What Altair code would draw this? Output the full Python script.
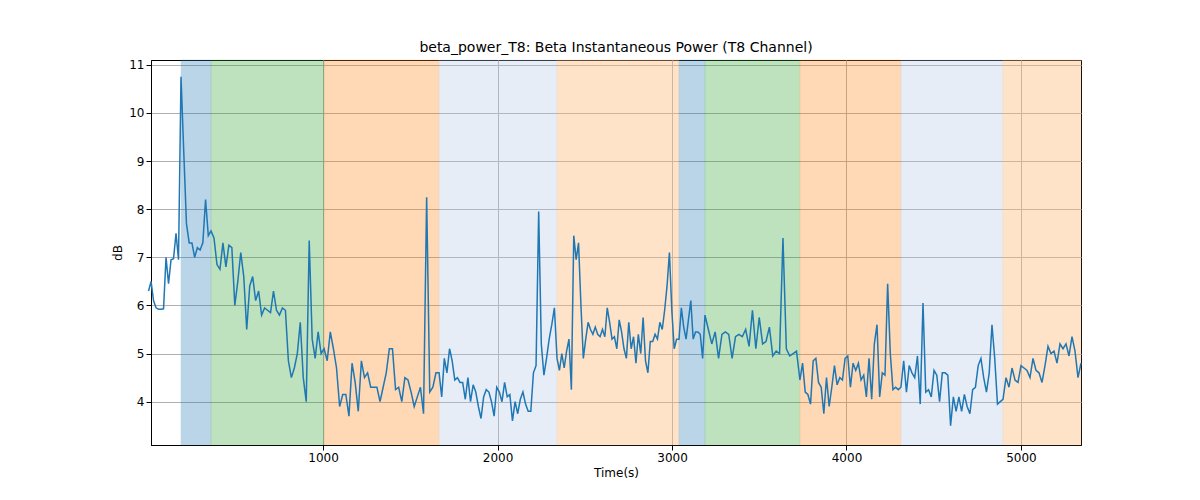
import altair as alt
import numpy as np
import pandas as pd

# shaded state bands: start, end, colour, opacity
band_start = [186, 358, 1006, 1665, 2341, 3040, 3189, 3733, 4312, 4897]
band_end = [358, 1006, 1665, 2341, 3040, 3189, 3733, 4312, 4897, 5344]
band_color = ['#1f77b4', '#2ca02c', '#ff7f0e', '#aec7e8', '#ffbb78',
              '#1f77b4', '#2ca02c', '#ff7f0e', '#aec7e8', '#ffbb78']
band_alpha = [0.3, 0.3, 0.3, 0.3, 0.4, 0.3, 0.3, 0.3, 0.3, 0.4]

# beta power readings per segment (dB)
seg_bounds = [0] + band_start
seg_values = [
    [6.3, 6.5, 6.1, 5.95, 5.92, 5.92, 5.93, 7.0, 6.45, 6.95, 6.97, 7.5, 6.95],
    [10.75, 9.2, 7.7, 7.3, 7.3, 7.0, 7.2, 7.15, 7.3, 8.2, 7.45],
    [7.55, 7.4, 6.85, 6.75, 7.3, 6.8, 7.25, 7.2, 6.0, 6.5, 7.1, 6.6, 5.5, 6.4, 6.6, 6.1,
     6.3, 5.8, 5.95, 5.9, 5.85, 6.3, 5.9, 5.8, 5.95, 5.9, 4.85, 4.5, 4.7, 5.0, 5.65, 4.5,
     4.0, 7.35, 5.3, 4.9, 5.45, 5.0],
    [5.1, 4.85, 5.45, 5.1, 4.7, 3.9, 4.15, 4.15, 3.7, 4.8, 4.4, 3.8, 4.85, 4.5, 4.6, 4.3,
     4.3, 4.3, 4.0, 4.3, 4.6, 5.1, 5.1, 4.25, 4.3, 4.0, 4.5, 4.45, 4.2, 3.9, 4.1, 4.3,
     3.75, 8.25, 4.2, 4.3, 4.6],
    [4.6, 4.1, 4.9, 4.6, 5.1, 4.85, 4.45, 4.5, 4.4, 4.4, 4.05, 4.5, 4.0, 4.35, 4.2, 3.9,
     3.65, 4.1, 4.25, 4.2, 4.0, 3.7, 4.3, 4.2, 4.0, 4.4, 4.1, 4.15, 3.6, 4.0, 3.75, 4.05,
     4.2, 3.95, 3.8, 3.8, 4.6, 4.75, 7.95, 5.2, 4.55, 4.9, 5.3, 5.6, 5.95],
    [4.9, 4.65, 5.0, 4.7, 5.05, 5.3, 4.25, 7.45, 6.95, 7.3, 6.0, 4.9, 5.3, 5.65, 5.5, 5.4,
     5.55, 5.4, 5.35, 5.5, 5.35, 5.95, 5.65, 5.3, 5.35, 5.1, 5.7, 5.45, 5.1, 4.9, 5.65,
     5.1, 5.35, 4.8, 5.4, 5.0, 5.75, 4.85, 4.6, 5.25, 5.25, 5.4, 5.3, 5.65, 5.5, 5.9, 6.4,
     7.1, 5.9, 5.1, 5.3],
    [5.3, 5.95, 5.55, 5.3, 5.7, 6.1, 5.3, 5.45, 5.45, 5.4, 4.9],
    [5.8, 5.5, 5.2, 5.45, 4.9, 5.4, 5.45, 5.4, 4.9, 5.35, 5.4, 5.35, 5.5, 5.15, 5.9, 5.1,
     5.75, 5.2, 5.25, 5.55, 4.95, 5.05, 5.0, 7.4, 5.1, 4.95, 5.0, 5.05],
    [4.45, 4.8, 4.2, 4.15, 3.95, 4.85, 4.9, 4.4, 4.3, 3.75, 4.5, 3.9, 4.3, 4.75, 4.35,
     4.5, 4.45, 4.9, 4.95, 4.3, 4.8, 4.65, 4.8, 4.45, 4.55, 4.1, 4.9, 4.05, 5.2, 5.6, 4.1,
     4.6, 4.55, 6.45, 5.0, 4.25, 4.3, 4.25],
    [4.3, 4.85, 4.2, 4.75, 4.6, 4.5, 4.95, 3.95, 6.05, 4.2, 4.25, 4.1, 4.65, 4.55, 4.0,
     4.6, 4.6, 4.55, 3.5, 4.1, 3.8, 4.1, 3.8, 4.15, 3.9, 3.75, 4.25, 4.3, 4.75, 4.9, 4.5,
     4.2, 4.6, 5.6, 4.9, 3.95, 4.0],
    [4.05, 4.5, 4.3, 4.7, 4.45, 4.4, 4.75, 4.7, 4.65, 4.5, 4.9, 4.65, 4.6, 4.4, 4.75,
     5.15, 5.0, 5.05, 4.8, 5.2, 5.1, 5.2, 4.95, 5.35, 5.05, 4.5, 4.8],
]

xs, ys = [], []
ends = band_start + [5344]
for i, vals in enumerate(seg_values):
    last = i == len(seg_values) - 1
    xs += list(np.linspace(seg_bounds[i], ends[i], len(vals), endpoint=last))
    ys += vals
line_df = pd.DataFrame({'t': xs, 'db': ys})

bands_df = pd.DataFrame({'s': band_start, 'e': band_end, 'c': band_color, 'a': band_alpha})

xscale = alt.Scale(domain=[14, 5344], nice=False, zero=False)
yscale = alt.Scale(domain=[3.1, 11.1], nice=False, zero=False)

bands = alt.Chart(bands_df).mark_rect(strokeWidth=1, strokeOpacity=0.5).encode(
    x=alt.X('s:Q', scale=xscale),
    x2='e:Q',
    color=alt.Color('c:N', scale=None),
    stroke=alt.Color('c:N', scale=None),
    opacity=alt.Opacity('a:Q', scale=None),
)

line = alt.Chart(line_df).mark_line(color='#1f77b4', strokeWidth=1.5).encode(
    x=alt.X('t:Q', scale=xscale, title='Time(s)',
            axis=alt.Axis(values=[1000, 2000, 3000, 4000, 5000], format='d',
                          gridColor='#b0b0b0')),
    y=alt.Y('db:Q', scale=yscale, title='dB',
            axis=alt.Axis(values=[4, 5, 6, 7, 8, 9, 10, 11], gridColor='#b0b0b0')),
)

chart = (bands + line).properties(
    width=930, height=385,
    padding={'left': 103, 'top': 32, 'right': 5, 'bottom': 5},
    title='beta_power_T8: Beta Instantaneous Power (T8 Channel)',
).configure_view(stroke='black', strokeWidth=1).configure_axis(
    labelFont='DejaVu Sans', titleFont='DejaVu Sans', labelFontSize=12, titleFontSize=12,
    titleFontWeight='normal', labelColor='black', titleColor='black',
    domainColor='black', tickColor='black', gridOpacity=1,
).configure_title(font='DejaVu Sans', fontSize=14, fontWeight='normal')

chart.save("out.html", embed_options={"renderer": "svg", "actions": False})
